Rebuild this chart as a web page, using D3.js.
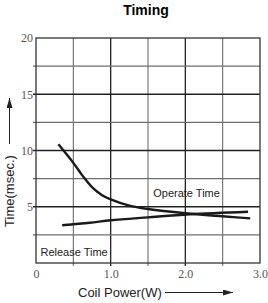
<!DOCTYPE html>
<html lang="en">
<head>
<meta charset="UTF-8">
<title>Timing</title>
<script src="https://cdn.jsdelivr.net/npm/d3@7"></script>
<style>
  body { margin: 0; background: #fff; }
  svg { display: block; }
  .tick text { font-family: "Liberation Serif", "DejaVu Serif", serif; }
</style>
</head>
<body>
<div id="chart"></div>
<script>
  // values
  const operatePower = [0.3, 0.5, 0.63, 0.75, 0.88, 1.0, 1.25, 1.5, 2.0, 2.5, 2.87];
  const operateTime  = [10.55, 8.9, 7.7, 6.75, 6.05, 5.65, 5.1, 4.8, 4.42, 4.15, 3.97];
  const releasePower = [0.35, 0.72, 1.0, 1.5, 2.06, 2.84];
  const releaseTime  = [3.35, 3.58, 3.8, 4.06, 4.33, 4.56];
  const xTickLabels = [0, 1, 2, 3];
  const yTickLabels = [5, 10, 15, 20];

  const W = 268, H = 303;
  const margin = {top: 38, right: 8, bottom: 40, left: 36};
  const width = W - margin.left - margin.right,
        height = H - margin.top - margin.bottom;

  const svg = d3.select("#chart").append("svg")
      .attr("width", W)
      .attr("height", H);

  const defs = svg.append("defs");
  defs.append("marker")
      .attr("id", "arrow")
      .attr("viewBox", "0 0 10 6")
      .attr("refX", 10).attr("refY", 3)
      .attr("markerWidth", 10).attr("markerHeight", 6)
      .attr("markerUnits", "userSpaceOnUse")
      .attr("orient", "auto")
    .append("path")
      .attr("d", "M0,0L10,3L0,6Z")
      .attr("fill", "#222");

  const g = svg.append("g")
      .attr("transform", `translate(${margin.left},${margin.top})`);

  const x = d3.scaleLinear().domain([0, 3]).range([0, width]);
  const y = d3.scaleLinear().domain([0, 20]).range([height, 0]);

  // grid (minor every 0.5 / 2.5, darker on the whole units)
  const xGrid = d3.range(0.5, 3, 0.5);
  const yGrid = d3.range(2.5, 20, 2.5);
  const isMajor = v => Math.abs(v - Math.round(v)) < 1e-6;

  g.append("g").selectAll("line")
    .data(xGrid)
    .join("line")
      .attr("x1", d => x(d)).attr("x2", d => x(d))
      .attr("y1", 0).attr("y2", height + 3)
      .attr("stroke", d => isMajor(d) ? "#222" : "#6e6e6e")
      .attr("stroke-width", d => isMajor(d) ? 1.3 : 1.1);

  g.append("g").selectAll("line")
    .data(yGrid)
    .join("line")
      .attr("x1", -3).attr("x2", width)
      .attr("y1", d => y(d)).attr("y2", d => y(d))
      .attr("stroke", d => d % 5 === 0 ? "#222" : "#6e6e6e")
      .attr("stroke-width", d => d % 5 === 0 ? 1.3 : 1.1);

  g.append("rect")
      .attr("width", width).attr("height", height)
      .attr("fill", "none")
      .attr("stroke", "#333")
      .attr("stroke-width", 1.3);

  // axes labels
  const xAxis = g.append("g")
      .attr("transform", `translate(0,${height})`)
      .call(d3.axisBottom(x).tickValues(xTickLabels).tickSize(0).tickPadding(6)
        .tickFormat(d => d === 0 ? "0" : d3.format(".1f")(d)));
  const yAxis = g.append("g")
      .call(d3.axisLeft(y).tickValues(yTickLabels).tickSize(0).tickPadding(3));
  [xAxis, yAxis].forEach(a => {
    a.attr("font-family", null);
    a.select(".domain").remove();
    a.selectAll("text")
      .attr("font-size", 12)
      .attr("fill", "#555");
  });

  // curves
  const line = d3.line()
      .x(d => x(d[0]))
      .y(d => y(d[1]))
      .curve(d3.curveCatmullRom.alpha(0.5));

  const operate = operatePower.map((p, i) => [p, operateTime[i]]);
  const release = releasePower.map((p, i) => [p, releaseTime[i]]);

  [operate, release].forEach(s => {
    g.append("path")
      .datum(s)
      .attr("d", line)
      .attr("fill", "none")
      .attr("stroke", "#1a1a1a")
      .attr("stroke-width", 2.4)
      .attr("stroke-linecap", "butt");
  });

  const sans = "'Liberation Sans', Arial, sans-serif";

  g.append("text")
      .attr("x", x(1.57)).attr("y", y(5.85))
      .attr("font-family", sans).attr("font-size", 11).attr("fill", "#222")
      .text("Operate Time");
  g.append("text")
      .attr("x", x(0.06)).attr("y", y(0.62))
      .attr("font-family", sans).attr("font-size", 11).attr("fill", "#222")
      .text("Release Time");

  // title
  svg.append("text")
      .attr("x", 146).attr("y", 15)
      .attr("text-anchor", "middle")
      .attr("font-family", sans).attr("font-size", 14).attr("font-weight", "bold")
      .text("Timing");

  // y label with arrow
  svg.append("text")
      .attr("transform", "translate(14,191) rotate(-90)")
      .attr("text-anchor", "middle")
      .attr("font-family", sans).attr("font-size", 13).attr("fill", "#222")
      .text("Time(msec.)");
  svg.append("line")
      .attr("x1", 9.5).attr("x2", 9.5)
      .attr("y1", 144).attr("y2", 98)
      .attr("stroke", "#222").attr("stroke-width", 1)
      .attr("marker-end", "url(#arrow)");

  // x label with arrow
  svg.append("text")
      .attr("x", 78).attr("y", 297)
      .attr("font-family", sans).attr("font-size", 13).attr("fill", "#222")
      .text("Coil Power(W)");
  svg.append("line")
      .attr("x1", 165).attr("x2", 233)
      .attr("y1", 292.5).attr("y2", 292.5)
      .attr("stroke", "#222").attr("stroke-width", 1)
      .attr("marker-end", "url(#arrow)");
</script>
</body>
</html>
